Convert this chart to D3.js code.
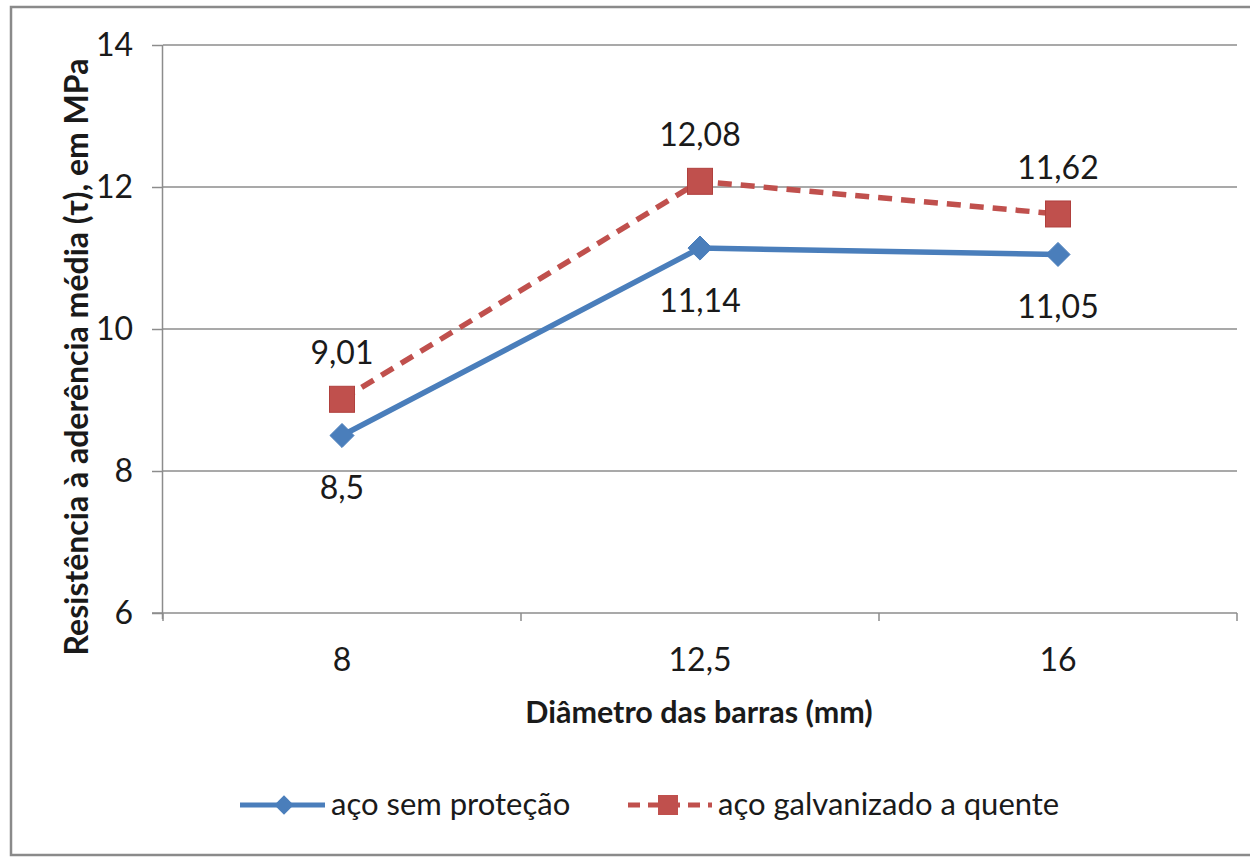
<!DOCTYPE html>
<html>
<head>
<meta charset="utf-8">
<script src="https://cdn.jsdelivr.net/npm/d3@7"></script>
<style>
  html, body { margin: 0; padding: 0; background: #fff; }
  svg { display: block; }
  text { font-family: Lato, "Open Sans", sans-serif; fill: #1a1a1a; }
</style>
</head>
<body>
<svg id="chart" width="1250" height="857"></svg>
<script>
// Bar diameters (mm) and mean bond strength (MPa)
const categories = ["8", "12,5", "16"];
const semProtecao = [8.5, 11.14, 11.05];
const galvanizado = [9.01, 12.08, 11.62];
const yTicks = [6, 8, 10, 12, 14];
const seriesNames = ["aço sem proteção", "aço galvanizado a quente"];

const blue = "#4A7EBB", red = "#C0504D", grid = "#8C8C8C";
const fmt = v => String(v).replace(".", ",");
const fs = 32, legendFs = 31;

const svg = d3.select("#chart");

// outer frame of the chart area
svg.append("rect")
  .attr("x", 11).attr("y", 7).attr("width", 1260).attr("height", 848)
  .attr("fill", "none").attr("stroke", "#8a8a8a").attr("stroke-width", 2.5);

const plot = { left: 163, right: 1237, top: 45, bottom: 613 };

const x = d3.scalePoint().domain(categories).range([plot.left, plot.right]).padding(0.5);
const y = d3.scaleLinear().domain([6, 14]).range([plot.bottom, plot.top]);

// horizontal gridlines
svg.append("g").selectAll("line").data(yTicks.filter(t => t > 6)).join("line")
  .attr("x1", plot.left).attr("x2", plot.right)
  .attr("y1", d => y(d)).attr("y2", d => y(d))
  .attr("stroke", grid).attr("stroke-width", 1.5);

// y axis
const yAxis = svg.append("g").attr("transform", `translate(${plot.left},0)`)
  .call(d3.axisLeft(y).tickValues(yTicks).tickSize(11).tickPadding(19).tickFormat(d => d));
yAxis.select(".domain").attr("stroke", grid).attr("stroke-width", 1.5).attr("d", `M-0.5,${plot.top}V${plot.bottom + 6}`);
yAxis.selectAll(".tick line").attr("stroke", grid).attr("stroke-width", 1.5);
yAxis.selectAll(".tick text").attr("font-size", fs).attr("fill", "#1a1a1a")
  .style("font-family", "Lato, 'Open Sans', sans-serif");

// x axis line with category-boundary ticks
svg.append("line")
  .attr("x1", plot.left - 11).attr("x2", plot.right)
  .attr("y1", plot.bottom).attr("y2", plot.bottom)
  .attr("stroke", grid).attr("stroke-width", 1.5);
const step = x.step();
const bounds = d3.range(categories.length + 1).map(i => plot.left + i * step);
svg.append("g").selectAll("line").data(bounds).join("line")
  .attr("x1", d => d).attr("x2", d => d)
  .attr("y1", plot.bottom).attr("y2", plot.bottom + 8)
  .attr("stroke", grid).attr("stroke-width", 1.5);
svg.append("g").selectAll("text").data(categories).join("text")
  .attr("x", d => x(d)).attr("y", 671)
  .attr("text-anchor", "middle").attr("font-size", fs)
  .text(d => d);

// axis titles
svg.append("text")
  .attr("x", 699).attr("y", 723).attr("text-anchor", "middle")
  .attr("font-size", 30.5).attr("font-weight", "bold")
  .text("Diâmetro das barras (mm)");
svg.append("text")
  .attr("transform", "translate(88,357) rotate(-90)")
  .attr("text-anchor", "middle").attr("font-size", 32).attr("font-weight", "bold")
  .text("Resistência à aderência média (τ), em MPa");

// series lines
const line = d3.line().x((d, i) => x(categories[i])).y(d => y(d));
svg.append("path").datum(galvanizado)
  .attr("d", line).attr("fill", "none").attr("stroke", red)
  .attr("stroke-width", 5.5).attr("stroke-dasharray", "14,9");
svg.append("path").datum(semProtecao)
  .attr("d", line).attr("fill", "none").attr("stroke", blue)
  .attr("stroke-width", 5.5);

// markers
const diamond = d3.symbol().type(d3.symbolDiamond2).size(370);
svg.append("g").selectAll("path").data(semProtecao).join("path")
  .attr("transform", (d, i) => `translate(${x(categories[i])},${y(d)})`)
  .attr("d", diamond).attr("fill", blue).attr("stroke", blue).attr("stroke-width", 1);
svg.append("g").selectAll("rect").data(galvanizado).join("rect")
  .attr("x", (d, i) => x(categories[i]) - 12.5).attr("y", d => y(d) - 13)
  .attr("width", 25).attr("height", 26)
  .attr("fill", red).attr("stroke", "#b0403d").attr("stroke-width", 1);

// value labels
svg.append("g").selectAll("text").data(galvanizado).join("text")
  .attr("x", (d, i) => x(categories[i])).attr("y", d => y(d) - 47)
  .attr("dy", "0.36em").attr("text-anchor", "middle").attr("font-size", fs)
  .text(fmt);
svg.append("g").selectAll("text").data(semProtecao).join("text")
  .attr("x", (d, i) => x(categories[i])).attr("y", d => y(d) + 52)
  .attr("dy", "0.36em").attr("text-anchor", "middle").attr("font-size", fs)
  .text(fmt);

// legend
const ly = 805;
const lg = svg.append("g");
lg.append("line").attr("x1", 240).attr("x2", 325).attr("y1", ly).attr("y2", ly)
  .attr("stroke", blue).attr("stroke-width", 5);
lg.append("path").attr("transform", `translate(284,${ly})`)
  .attr("d", d3.symbol().type(d3.symbolDiamond2).size(240)).attr("fill", blue);
lg.append("text").attr("x", 331).attr("y", ly).attr("dy", "0.33em")
  .attr("font-size", legendFs).text(seriesNames[0]);

lg.append("line").attr("x1", 628).attr("x2", 712).attr("y1", ly).attr("y2", ly)
  .attr("stroke", red).attr("stroke-width", 5).attr("stroke-dasharray", "12,8");
lg.append("rect").attr("x", 658).attr("y", ly - 10).attr("width", 20).attr("height", 20)
  .attr("fill", red);
lg.append("text").attr("x", 718).attr("y", ly).attr("dy", "0.33em")
  .attr("font-size", legendFs).text(seriesNames[1]);
</script>
</body>
</html>
